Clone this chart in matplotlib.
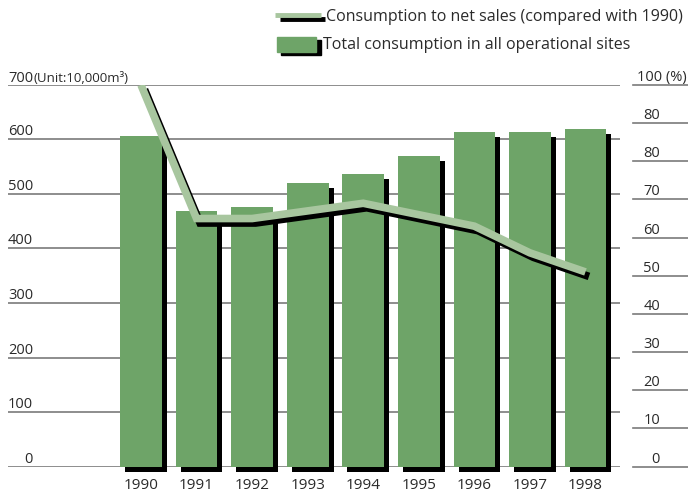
import matplotlib
matplotlib.use("Agg")
import matplotlib.pyplot as plt
from matplotlib import transforms
from matplotlib.patches import Rectangle
from matplotlib.lines import Line2D

plt.rcParams['font.family'] = ['Open Sans', 'DejaVu Sans']

years = ["1990", "1991", "1992", "1993", "1994", "1995", "1996", "1997", "1998"]
consumption = [606, 468, 477, 520, 537, 570, 614, 614, 619]
ratio = [100, 65, 65, 67, 69, 66, 63, 56, 51]
left_ticks = [0, 100, 200, 300, 400, 500, 600, 700]
left_labels = ["0", "100", "200", "300", "400", "500", "600", "700"]
right_ticks = [0, 10, 20, 30, 40, 50, 60, 70, 80, 90, 100]
right_labels = ["0", "10", "20", "30", "40", "50", "60", "70", "80", "80", "100"]

W, H = 688, 494
fig = plt.figure(figsize=(W / 100, H / 100), dpi=100)

BAR = "#6ea468"
LINE = "#a8c69f"
GRID = "#7a7a7a"
TXT = "#2a2a2a"

# axes in pixel coords
x0, x1 = 8, 620
y_top, y_bot = 85, 466.5
ax = fig.add_axes([x0 / W, (H - y_bot) / H, (x1 - x0) / W, (y_bot - y_top) / H])
ax.set_ylim(0, 700)
c0, step = 141, 55.56
ax.set_xlim((x0 - c0) / step, (x1 - c0) / step)
ax.axis('off')

ax2 = ax.twinx()
ax2.set_ylim(0, 100)
ax2.set_xlim(ax.get_xlim())
ax2.axis('off')

xs = list(range(len(years)))

# gridlines
for t in left_ticks:
    ax.axhline(t, color=GRID, lw=1.2, zorder=0)

# bar shadows + bars
shadow = transforms.offset_copy(ax.transData, fig=fig, x=5, y=-5, units='dots')
ax.bar(xs, consumption, width=0.75, color='black', transform=shadow, clip_on=False, zorder=1)
ax.bar(xs, consumption, width=0.75, color=BAR, zorder=2)

# line with shadow
lshadow = transforms.offset_copy(ax2.transData, fig=fig, x=3.5, y=-4.5, units='dots')
ax2.plot(xs, ratio, color='black', lw=5.5, transform=lshadow, zorder=3,
         solid_joinstyle='miter', solid_capstyle='butt')
ax2.plot(xs, ratio, color=LINE, lw=5.5, zorder=4,
         solid_joinstyle='miter', solid_capstyle='butt')

# left tick labels
bl = transforms.blended_transform_factory(fig.transFigure, ax.transData)
for t, lab in zip(left_ticks, left_labels):
    if t == 700:
        fig.text(8 / W, 1 - 78 / H, "700", ha='left', va='center', fontsize=10.5, color=TXT)
        fig.text(33 / W, 1 - 78 / H, "(Unit:10,000m³)", ha='left', va='center',
                 fontsize=9.5, color=TXT)
    else:
        ax.text(33 / W, t, lab, transform=bl, ha='right', va='bottom', fontsize=10.5,
                color=TXT)

# right tick labels with underlines
br = transforms.blended_transform_factory(fig.transFigure, ax2.transData)
for t, lab in zip(right_ticks, right_labels):
    ax2.plot([633 / W, 1.0], [t, t], transform=br, color=GRID, lw=1.2, clip_on=False)
    if t == 100:
        ax2.text(637 / W, t, "100 (%)", transform=br, ha='left', va='bottom',
                 fontsize=10.5, color=TXT)
    else:
        ax2.text(660 / W, t, lab, transform=br, ha='right', va='bottom', fontsize=10.5,
                 color=TXT)

# year labels
bx = transforms.blended_transform_factory(ax.transData, fig.transFigure)
for x, y in zip(xs, years):
    ax.text(x, 1 - 485 / H, y, transform=bx, ha='center', va='center', fontsize=11,
            color=TXT)

# legend (figure pixel coords)
def px(x, y):
    return x / W, 1 - y / H

fig.add_artist(Line2D([280 / W, 325 / W], [1 - 19.5 / H, 1 - 19.5 / H], color='black', lw=3.5,
                      solid_capstyle='butt'))
fig.add_artist(Line2D([275 / W, 321 / W], [1 - 15 / H, 1 - 15 / H], color=LINE, lw=3.5,
                      solid_capstyle='butt'))
fig.add_artist(Rectangle(px(281, 55), 40 / W, 15 / H, transform=fig.transFigure,
                         color='black'))
fig.add_artist(Rectangle(px(277, 52), 39 / W, 15 / H, transform=fig.transFigure,
                         color=BAR))
fig.text(326 / W, 1 - 17 / H, "Consumption to net sales (compared with 1990)", ha='left',
         va='center', fontsize=11.5, color=TXT)
fig.text(323 / W, 1 - 45 / H, "Total consumption in all operational sites", ha='left',
         va='center', fontsize=11.5, color=TXT)

fig.savefig("out.png", dpi=100)
